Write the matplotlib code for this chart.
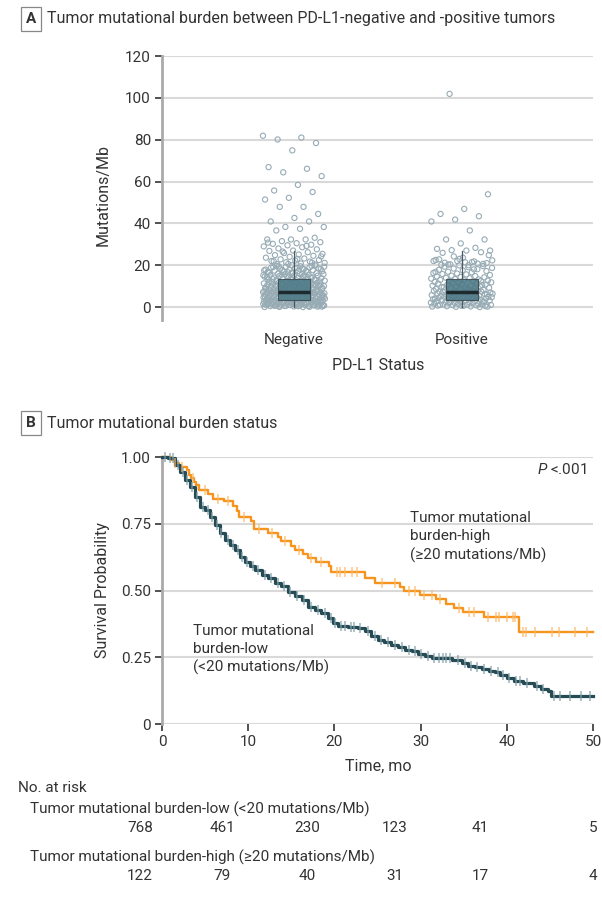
import numpy as np
import matplotlib
matplotlib.use('Agg')
import matplotlib.pyplot as plt

FONT = ['Roboto', 'DejaVu Sans']
plt.rcParams['font.family'] = FONT
plt.rcParams['mathtext.fontset'] = 'custom'
plt.rcParams['mathtext.it'] = 'Roboto:italic'
plt.rcParams['mathtext.rm'] = 'Roboto'

TXT = '#333333'
GRID = '#d9d9d9'

# ---- panel A data: Mutations/Mb by PD-L1 status ----
categories = ['Negative', 'Positive']

neg_values = [
    81.9, 81.0, 80.1, 78.4, 74.9, 66.9, 66.1, 64.4, 62.6, 58.4, 55.7, 55.0,
    52.2, 51.4, 47.9, 47.9, 44.5, 42.6, 40.9, 40.9, 38.3, 38.3, 37.4, 36.6,
    33.1, 32.3, 32.3, 32.3,
    31.5, 31.0, 30.5, 30.2, 29.8, 29.5, 29.0, 28.6, 28.0, 27.6, 27.0, 26.8,
    26.2, 25.8, 25.4, 25.1, 24.8, 24.5, 24.0, 23.6, 23.2, 22.8, 22.5, 22.2,
    22.0, 21.7, 21.4, 21.1, 20.8, 20.5, 20.3, 20.0, 30.8, 29.2, 26.5, 24.2,
    23.0, 21.9, 21.2, 20.6,
    0.0, 0.0, 0.1, 0.2, 0.3, 0.4, 0.5, 0.5, 0.6, 0.7, 0.8, 0.8, 0.9, 1.0,
    1.0, 1.1, 1.2, 1.2, 1.3, 1.4, 1.5, 1.5, 1.6, 1.6, 1.7, 1.8, 1.8, 1.9,
    1.9, 0.2, 0.4, 0.6, 0.9, 1.1, 1.3, 1.7, 0.3, 0.7, 1.4, 1.6, 0.1, 0.5,
    0.8, 1.2, 1.5, 1.9,
    2.0, 2.1, 2.1, 2.2, 2.3, 2.3, 2.4, 2.5, 2.5, 2.6, 2.7, 2.7, 2.8, 2.9,
    2.9, 3.0, 3.1, 3.1, 3.2, 3.3, 3.3, 3.4, 3.5, 3.5, 3.6, 3.7, 3.7, 3.8,
    3.9, 3.9, 4.0, 4.1, 4.1, 4.2, 4.3, 4.3, 4.4, 4.5, 4.5, 4.6, 4.7, 4.7,
    4.8, 4.9, 4.9, 2.2, 2.6, 3.0, 3.4, 3.8, 4.2, 4.6, 2.4, 2.8, 3.2, 3.6,
    4.0, 4.4, 4.8, 3.0, 2.0, 2.5, 3.3, 3.9, 4.6,
    5.0, 5.1, 5.2, 5.2, 5.3, 5.4, 5.5, 5.5, 5.6, 5.7, 5.8, 5.8, 5.9, 6.0,
    6.1, 6.1, 6.2, 6.3, 6.4, 6.4, 6.5, 6.6, 6.7, 6.7, 6.8, 6.9, 7.0, 7.0,
    7.1, 7.2, 7.3, 7.3, 7.4, 7.5, 7.6, 7.6, 7.7, 7.8, 7.9, 7.9, 5.3, 5.7,
    6.0, 6.3, 6.6, 6.9, 7.2, 7.5, 7.8, 5.5, 6.2, 6.8, 7.4, 5.9, 7.1,
    8.0, 8.1, 8.2, 8.3, 8.4, 8.5, 8.6, 8.7, 8.8, 8.9, 9.0, 9.1, 9.2, 9.3,
    9.4, 9.5, 9.6, 9.7, 9.8, 9.9, 10.0, 10.1, 10.2, 10.3, 10.4, 10.5, 10.6,
    10.7, 10.8, 10.9, 11.0, 11.1, 11.2, 11.3, 11.4, 11.5, 11.6, 11.7, 11.8,
    11.9, 8.4, 9.0, 9.6, 10.2, 10.8, 11.4, 8.7, 9.9, 11.1, 10.5,
    12.0, 12.1, 12.3, 12.4, 12.6, 12.7, 12.9, 13.0, 13.2, 13.3, 13.5, 13.6,
    13.8, 13.9, 14.1, 14.2, 14.4, 14.5, 14.7, 14.8, 15.0, 15.1, 15.3, 15.4,
    15.6, 15.7, 15.9, 12.5, 13.1, 13.7, 14.3, 14.9, 15.5, 12.2, 12.8, 13.4,
    14.0, 14.6, 15.2, 15.8,
    16.0, 16.2, 16.4, 16.5, 16.7, 16.9, 17.1, 17.2, 17.4, 17.6, 17.8, 17.9,
    18.1, 18.3, 18.5, 18.6, 18.8, 19.0, 19.2, 19.3, 19.5, 19.7, 19.9, 16.3,
    16.8, 17.3, 17.7, 18.2, 18.7, 19.1, 19.6, 16.6, 17.5, 18.4, 19.4,
]

pos_values = [
    101.9, 53.9, 46.9, 44.5, 43.4, 41.8, 40.9, 36.6, 32.3, 32.3, 30.4, 27.8,
    28.3, 27.2, 27.0, 27.0, 25.9, 26.2,
    22.0, 22.0, 21.5, 20.3, 21.0, 23.6, 22.8, 20.8, 24.2, 22.3, 20.0, 21.2,
    20.6, 23.0, 22.5, 21.8, 20.4, 24.8, 21.4, 20.2,
    0.0, 0.1, 0.2, 0.3, 0.4, 0.5, 0.6, 0.7, 0.8, 0.9, 1.0, 1.1, 1.2, 1.3,
    1.5, 1.6, 1.8, 1.9, 0.2, 0.6, 1.0, 1.4,
    2.0, 2.1, 2.2, 2.4, 2.5, 2.6, 2.8, 2.9, 3.0, 3.1, 3.2, 3.4, 3.5, 3.6,
    3.7, 3.8, 4.0, 4.1, 4.2, 4.3, 4.5, 4.6, 4.7, 4.8, 4.9, 2.7, 3.3, 3.9,
    4.4, 2.3,
    5.0, 5.1, 5.3, 5.4, 5.6, 5.7, 5.9, 6.0, 6.2, 6.3, 6.5, 6.6, 6.8, 6.9,
    7.1, 7.2, 7.4, 7.5, 7.7, 7.8, 5.5, 6.1, 6.7, 7.3, 7.9, 5.2, 6.4, 7.0,
    8.0, 8.2, 8.4, 8.6, 8.8, 9.0, 9.2, 9.4, 9.6, 9.8, 10.0, 10.2, 10.4, 10.6,
    10.8, 11.0, 11.2, 11.4, 11.6, 11.8, 8.5, 9.5, 10.5, 11.5,
    12.0, 12.2, 12.4, 12.6, 12.8, 13.0, 13.2, 13.4, 13.6, 13.8, 14.0, 14.2,
    14.4, 14.6, 14.8, 15.0, 15.3, 15.6, 15.8, 12.5,
    16.0, 16.3, 16.6, 16.9, 17.2, 17.5, 17.8, 18.1, 18.4, 18.7, 19.0, 19.3,
    19.6, 19.9, 16.8, 18.0,
]

# box statistics: whisker low, Q1, median, Q3, whisker high
box_neg = [0.0, 3.5, 7.0, 13.5, 27.0]
box_pos = [0.0, 3.5, 7.0, 13.3, 27.0]

# ---- panel B data: Kaplan-Meier curves ----
t_low = [0, 0.7, 1.5, 2.1, 2.7, 3.2, 3.8, 4.4, 5.0, 5.6, 6.1, 6.7, 7.3, 7.9,
         8.5, 9.0, 9.6, 10.2, 10.8, 11.6, 12.3, 13.1, 13.8, 14.6, 15.4, 16.2,
         16.9, 17.7, 18.5, 19.3, 19.8, 20.4, 21.6, 22.7, 23.5, 24.3, 25.1,
         25.8, 26.6, 27.4, 28.2, 29.0, 29.7, 30.5, 31.3, 33.6, 34.8, 35.5,
         36.3, 37.1, 37.9, 38.6, 39.2, 40.0, 40.8, 41.9, 43.1, 44.0, 44.8,
         45.1]
s_low = [1.0, 0.995, 0.97, 0.945, 0.914, 0.889, 0.852, 0.814, 0.80, 0.776,
         0.745, 0.714, 0.689, 0.67, 0.652, 0.627, 0.608, 0.59, 0.577, 0.558,
         0.546, 0.527, 0.515, 0.496, 0.478, 0.466, 0.44, 0.428, 0.416, 0.397,
         0.378, 0.368, 0.362, 0.36, 0.347, 0.328, 0.316, 0.307, 0.297, 0.287,
         0.278, 0.272, 0.262, 0.253, 0.249, 0.241, 0.228, 0.219, 0.212, 0.207,
         0.20, 0.193, 0.185, 0.172, 0.16, 0.153, 0.141, 0.130, 0.122, 0.106]
cens_low = [0.4, 0.9, 1.3, 1.8, 2.4, 2.9, 3.5, 4.1, 4.7, 5.3, 5.8, 6.4, 6.9,
            7.6, 8.2, 8.8, 9.3, 9.9, 10.5, 11.1, 11.9, 12.6, 13.4, 14.1, 14.9,
            15.7, 16.5, 17.3, 18.1, 18.9, 19.6, 20.1, 20.8, 21.2, 21.9, 22.3,
            23.0, 23.9, 24.7, 25.4, 26.2, 27.0, 27.8, 28.6, 29.3, 30.1, 30.9,
            31.6, 32.1, 32.6, 33.0, 33.4, 34.3, 35.1, 35.8, 36.6, 37.4, 38.2,
            39.0, 39.6, 40.3, 41.1, 41.5, 42.4, 43.5, 44.2, 45.5, 46.2, 47.3,
            48.6, 49.6]

t_high = [0, 1.0, 1.5, 2.0, 2.9, 3.1, 3.4, 3.7, 4.0, 4.3, 5.3, 5.9, 7.2, 8.2,
          8.7, 8.9, 10.3, 10.7, 12.3, 13.4, 13.8, 15.0, 15.4, 16.3, 16.9,
          17.9, 19.4, 19.6, 23.5, 24.7, 27.6, 28.1, 29.9, 31.8, 33.0, 33.9,
          34.9, 37.3, 41.4]
s_high = [1.0, 0.99, 0.979, 0.962, 0.95, 0.934, 0.92, 0.905, 0.894, 0.876,
          0.86, 0.844, 0.834, 0.816, 0.796, 0.777, 0.761, 0.73, 0.715, 0.70,
          0.684, 0.668, 0.65, 0.638, 0.62, 0.607, 0.59, 0.570, 0.548, 0.528,
          0.514, 0.50, 0.485, 0.467, 0.45, 0.434, 0.418, 0.40, 0.343]
cens_high = [1.5, 2.3, 3.6, 5.0, 6.5, 7.6, 9.5, 11.2, 12.8, 14.3, 15.9, 17.3,
             18.5, 20.3, 20.7, 21.2, 22.0, 22.6, 25.5, 27.0, 28.6, 29.3, 30.4,
             31.3, 32.3, 34.4, 35.6, 36.2, 37.8, 38.7, 39.1, 40.0, 40.7, 41.0,
             41.9, 42.2, 43.3, 45.3, 46.0, 47.9, 49.3]

risk_times = [0, 10, 20, 30, 40, 50]
risk_low = [768, 461, 230, 123, 41, 5]
risk_high = [122, 79, 40, 31, 17, 4]

W, H = 602, 899
fig = plt.figure(figsize=(W / 100, H / 100), dpi=100)


def fxy(x, y):
    """pixel position -> figure fraction"""
    return x / W, 1 - y / H


def panel_label(letter, title, y):
    fig.text(*fxy(31, y), letter, ha='center', va='center', fontsize=11,
             fontweight='bold', color=TXT,
             bbox=dict(boxstyle='square,pad=0.35', fc='white', ec='#888888',
                       lw=0.9))
    fig.text(*fxy(47, y), title, ha='left', va='center', fontsize=11.5,
             color=TXT)


def style_axis(ax):
    for side in ['top', 'right', 'bottom']:
        ax.spines[side].set_visible(False)
    ax.spines['left'].set_color('#aaaaaa')
    ax.spines['left'].set_linewidth(2)
    ax.yaxis.grid(True, color=GRID, lw=1.5)
    ax.set_axisbelow(True)
    ax.tick_params(axis='y', length=5, width=1.2, color=TXT, labelsize=11,
                   labelcolor=TXT, pad=3)


# ---------------- panel A ----------------
panel_label('A', 'Tumor mutational burden between PD-L1-negative and '
            '-positive tumors', 19)
axA = fig.add_axes([162 / W, 1 - 320 / H, 431 / W, 264 / H])
style_axis(axA)
axA.set_ylim(-6.2, 120)
axA.set_xlim(-0.786, 1.78)
axA.set_yticks([0, 20, 40, 60, 80, 100, 120])
axA.set_xticks([0, 1])
axA.set_xticklabels(categories)
axA.tick_params(axis='x', length=0, labelsize=11, labelcolor=TXT, pad=9)

golden = 0.6180339887
for k, vals in enumerate([neg_values, pos_values]):
    n = len(vals)
    jit = ((np.arange(n) * golden + 0.3 * k) % 1.0) * 2 - 1
    axA.scatter(k + 0.185 * jit, vals, s=14, facecolors='none',
                edgecolors='#97abb5', linewidths=0.8, zorder=2)

stats = []
for b in [box_neg, box_pos]:
    stats.append(dict(whislo=b[0], q1=b[1], med=b[2], q3=b[3], whishi=b[4],
                      fliers=[]))
axA.bxp(stats, positions=[0, 1], widths=0.19, showcaps=False,
        patch_artist=True, manage_ticks=False,
        boxprops=dict(facecolor='#4d7987', edgecolor='#3b4a50', lw=0.8,
                      alpha=0.88),
        medianprops=dict(color='#1f2a2e', lw=2.5),
        whiskerprops=dict(color='#4a5a60', lw=0.9), zorder=3)
fig.text(*fxy(378, 366), 'PD-L1 Status', ha='center', va='center',
         fontsize=11.5, color=TXT)
fig.text(*fxy(103, 195), 'Mutations/Mb', ha='center', va='center',
         rotation=90, fontsize=11.5, color=TXT)

# ---------------- panel B ----------------
panel_label('B', 'Tumor mutational burden status', 423)
axB = fig.add_axes([162 / W, 1 - 724 / H, 431 / W, 267 / H])
style_axis(axB)
axB.set_xlim(0, 50)
axB.set_ylim(0, 1.0)
axB.set_yticks([0, 0.25, 0.5, 0.75, 1.0])
axB.set_yticklabels(['0', '0.25', '0.50', '0.75', '1.00'])
axB.set_xticks(risk_times)
axB.tick_params(axis='x', length=5, width=1.2, color=TXT, labelsize=11,
                labelcolor=TXT, pad=3)


def km_plot(ax, t, s, cens, color, tick_color, lw):
    tt = np.append(t, 50)
    ss = np.append(s, s[-1])
    ax.step(tt, ss, where='post', color=color, lw=lw, zorder=3,
            clip_on=False)
    cy = np.array(s)[np.searchsorted(t, cens, side='right') - 1]
    ax.plot(cens, cy, ls='none', marker='|', ms=7, mew=1.1,
            color=tick_color, alpha=0.8, zorder=4, clip_on=False)


km_plot(axB, t_high, s_high, cens_high, '#f7941d', '#fbb866', 1.7)
km_plot(axB, t_low, s_low, cens_low, '#274b55', '#7fa0a8', 2.3)

axB.text(28.8, 0.70, 'Tumor mutational\nburden-high\n(≥20 mutations/Mb)',
         ha='left', va='center', fontsize=11, color=TXT, linespacing=1.35)
axB.text(3.6, 0.375, 'Tumor mutational\nburden-low\n(<20 mutations/Mb)',
         ha='left', va='top', fontsize=11, color=TXT, linespacing=1.35)
axB.text(0.985, 0.955, r'$P$ <.001', transform=axB.transAxes, ha='right',
         va='center', fontsize=11, color=TXT)

fig.text(*fxy(378, 766), 'Time, mo', ha='center', va='center',
         fontsize=11.5, color=TXT)
fig.text(*fxy(103, 590), 'Survival Probability', ha='center', va='center',
         rotation=90, fontsize=11.5, color=TXT)

# number at risk table
fig.text(*fxy(18, 788), 'No. at risk', ha='left', va='center', fontsize=11,
         color=TXT)
fig.text(*fxy(30, 809), 'Tumor mutational burden-low (<20 mutations/Mb)',
         ha='left', va='center', fontsize=11, color=TXT)
fig.text(*fxy(30, 857), 'Tumor mutational burden-high (≥20 mutations/Mb)',
         ha='left', va='center', fontsize=11, color=TXT)
risk_px = [140, 222, 307, 395, 480, 593]
for xp, a, b in zip(risk_px, risk_low, risk_high):
    fig.text(*fxy(xp, 828), str(a), ha='center', va='center', fontsize=11,
             color=TXT)
    fig.text(*fxy(xp, 876), str(b), ha='center', va='center', fontsize=11,
             color=TXT)

fig.savefig('out.png', dpi=100)
